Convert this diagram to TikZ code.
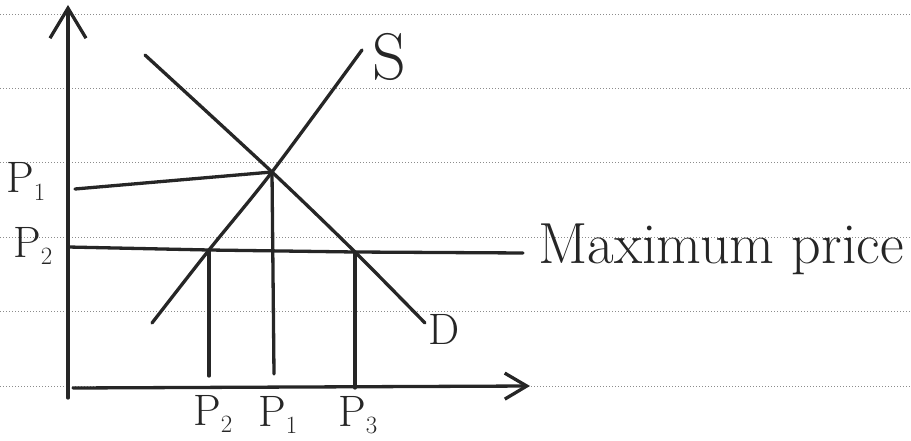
\documentclass[tikz,border=0pt]{standalone}
\usetikzlibrary{arrows.meta}
\begin{document}
\begin{tikzpicture}[x=1pt,y=-1pt,
  ink/.style={line width=3.3pt, black!85, line cap=round, line join=round},
  rule/.style={dotted, line width=1pt, black!45},
  lbl/.style={inner sep=0pt, black!85, font=\fontsize{44}{50}\selectfont},
  big/.style={inner sep=0pt, black!85, font=\fontsize{58}{64}\selectfont}]
\useasboundingbox (0,0) rectangle (911,441);
% ruled paper
\foreach \y in {15,89,163,237,311,386} \draw[rule] (0,\y) -- (911,\y);
% key points
\coordinate (ybot) at (68,398);
\coordinate (ytop) at (68,5);
\coordinate (xl) at (73,388);
\coordinate (xr) at (530,386);
\coordinate (E) at (272,172);
\coordinate (A) at (209,250);
\coordinate (B) at (355,252);
\coordinate (Sl) at (152,323);
\coordinate (St) at (362,50);
\coordinate (Dt) at (145,55);
\coordinate (Db) at (425,323);
\coordinate (p1l) at (75,189);
\coordinate (ml) at (68,247);
\coordinate (mr) at (523,253);
\coordinate (qA) at (209,376);
\coordinate (qE) at (274,374);
\coordinate (qB) at (355,388);
% axes
\draw[ink, -{Straight Barb[length=30pt,width=36pt,line width=3.3pt]}] (ybot) -- (ytop);
\draw[ink, -{Straight Barb[length=22pt,width=26pt,line width=3.3pt]}] (xl) -- (xr);
% supply and demand
\draw[ink] plot[smooth, tension=0.5] coordinates {(Sl) (A) (E) (St)};
\draw[ink] plot[smooth, tension=0.5] coordinates {(Dt) (E) (B) (Db)};
% price lines
\draw[ink] (p1l) -- (E);
\draw[ink] (ml) -- (A) -- (B) -- (mr);
% quantity lines
\draw[ink] (A) -- (qA);
\draw[ink] (E) -- (qE);
\draw[ink] (B) -- (qB);
% labels
\node[lbl, anchor=base west] (lP1) at (6,193) {P$_1$};
\node[lbl, anchor=base west] (lP2) at (13,257) {P$_2$};
\node[lbl, anchor=base west] (qP2) at (193,425) {P$_2$};
\node[lbl, anchor=base west] (qP1) at (258,426) {P$_1$};
\node[lbl, anchor=base west] (qP3) at (338,426) {P$_3$};
\node[inner sep=0pt, black!85, font=\fontsize{66}{70}\selectfont, anchor=base west] (lS) at (372,80) {S};
\node[lbl, anchor=base west] (lD) at (428,344) {D};
\node[big, anchor=base west] (lmax) at (538,263) {Maximum price};
\end{tikzpicture}
\end{document}
